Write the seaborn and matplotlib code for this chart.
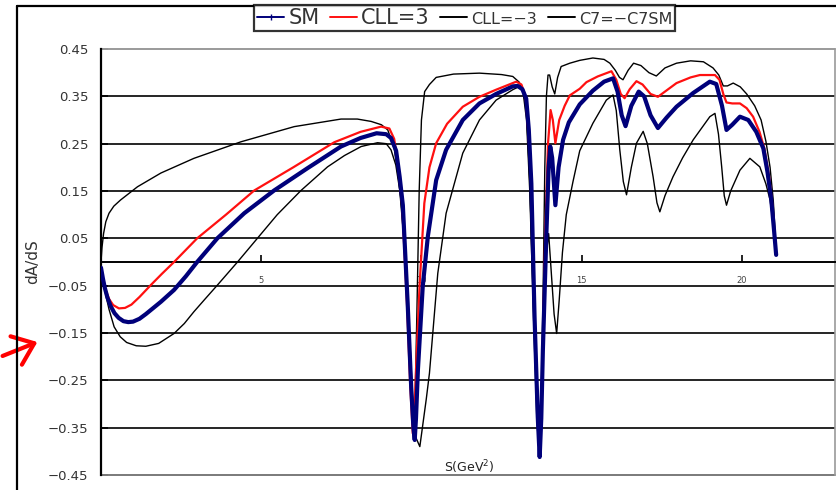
import numpy as np
import pandas as pd
import matplotlib
matplotlib.use("Agg")
import matplotlib.pyplot as plt
import seaborn as sns
from matplotlib.lines import Line2D

# ---- data: forward-backward asymmetry dA/dS versus S (GeV^2) ----
s_sm = [0.0, 0.06, 0.12, 0.2, 0.3, 0.42, 0.55, 0.7, 0.85, 1.0, 1.2, 1.4, 1.87, 2.28, 2.65,
        3.0, 3.63, 4.47, 5.4, 6.44, 7.49, 8.1, 8.6, 8.9, 9.05, 9.21, 9.32, 9.42, 9.57, 9.68,
        9.75, 9.79, 9.83, 9.89, 10.04, 10.2, 10.46, 10.77, 11.29, 11.81, 12.33, 12.85, 13.0,
        13.15, 13.27, 13.35, 13.43, 13.53, 13.63, 13.69, 13.74, 13.79, 13.9, 13.97, 14.02,
        14.08, 14.18, 14.28, 14.42, 14.6, 14.94, 15.35, 15.7, 15.98, 16.12, 16.25, 16.37,
        16.55, 16.78, 16.95, 17.15, 17.38, 17.65, 17.96, 18.48, 19.0, 19.2, 19.38, 19.52,
        19.7, 19.94, 20.2, 20.45, 20.67, 20.8, 20.92, 21.0, 21.07]
a_sm = [-0.012, -0.035, -0.055, -0.075, -0.093, -0.108, -0.118, -0.125, -0.127, -0.126,
        -0.12, -0.11, -0.084, -0.059, -0.03, 0.0, 0.05, 0.103, 0.151, 0.198, 0.244, 0.262,
        0.272, 0.27, 0.262, 0.235, 0.18, 0.12, -0.087, -0.264, -0.35, -0.376, -0.33, -0.228,
        -0.052, 0.054, 0.173, 0.237, 0.3, 0.335, 0.355, 0.371, 0.372, 0.365, 0.345, 0.28,
        0.166, -0.116, -0.327, -0.412, -0.33, -0.186, 0.061, 0.2, 0.244, 0.22, 0.12, 0.2,
        0.258, 0.295, 0.333, 0.362, 0.381, 0.388, 0.36, 0.31, 0.287, 0.33, 0.36, 0.35,
        0.31, 0.283, 0.305, 0.328, 0.357, 0.381, 0.376, 0.33, 0.279, 0.29, 0.307, 0.3,
        0.275, 0.24, 0.19, 0.13, 0.07, 0.015]

s_cp = [0.0, 0.06, 0.15, 0.25, 0.38, 0.56, 0.75, 0.95, 1.2, 1.55, 1.9, 2.28, 3.0, 3.9, 4.78,
        6.0, 7.28, 8.1, 8.74, 9.0, 9.15, 9.28, 9.4, 9.55, 9.65, 9.73, 9.78, 9.83, 9.94,
        10.09, 10.25, 10.46, 10.8, 11.29, 11.81, 12.33, 12.96, 13.12, 13.25, 13.33, 13.43,
        13.53, 13.62, 13.68, 13.73, 13.78, 13.86, 13.95, 14.03, 14.1, 14.18, 14.3, 14.47,
        14.63, 14.94, 15.15, 15.5, 15.93, 16.08, 16.22, 16.34, 16.5, 16.71, 16.9, 17.15,
        17.38, 17.7, 17.96, 18.4, 18.69, 19.16, 19.3, 19.42, 19.52, 19.7, 19.94, 20.15,
        20.35, 20.55, 20.7, 20.85, 20.95, 21.02, 21.07]
a_cp = [-0.012, -0.035, -0.06, -0.078, -0.091, -0.098, -0.097, -0.09, -0.074, -0.049,
        -0.025, 0.0, 0.05, 0.1, 0.151, 0.2, 0.253, 0.275, 0.286, 0.282, 0.26, 0.2, 0.12,
        -0.09, -0.26, -0.362, -0.33, -0.228, -0.052, 0.124, 0.2, 0.251, 0.292, 0.328,
        0.349, 0.364, 0.381, 0.375, 0.35, 0.28, 0.17, -0.11, -0.32, -0.405, -0.33, -0.2,
        0.05, 0.25, 0.321, 0.3, 0.251, 0.3, 0.33, 0.352, 0.366, 0.38, 0.392, 0.403, 0.385,
        0.355, 0.346, 0.365, 0.382, 0.375, 0.355, 0.349, 0.365, 0.378, 0.39, 0.395, 0.395,
        0.385, 0.355, 0.337, 0.335, 0.335, 0.325, 0.307, 0.275, 0.24, 0.18, 0.12, 0.06,
        0.015]

s_cm = [0.0, 0.08, 0.15, 0.25, 0.41, 0.6, 0.8, 1.1, 1.4, 1.8, 2.28, 2.6, 2.9, 3.25, 3.63,
        4.26, 4.88, 5.5, 6.24, 7.07, 7.6, 8.12, 8.63, 8.9, 9.05, 9.2, 9.35, 9.5, 9.62, 9.72,
        9.82, 9.95, 10.05, 10.15, 10.25, 10.51, 10.77, 11.29, 11.81, 12.33, 12.85, 13.06,
        13.18, 13.28, 13.38, 13.5, 13.6, 13.68, 13.74, 13.82, 13.9, 13.97, 14.05, 14.14,
        14.22, 14.3, 14.4, 14.52, 14.73, 14.94, 15.35, 15.77, 15.98, 16.08, 16.19, 16.3,
        16.4, 16.55, 16.71, 16.92, 17.05, 17.23, 17.35, 17.44, 17.6, 17.85, 18.15, 18.48,
        19.0, 19.16, 19.27, 19.37, 19.45, 19.52, 19.65, 19.94, 20.25, 20.56, 20.75, 20.88,
        20.98, 21.07]
a_cm = [-0.012, -0.045, -0.07, -0.1, -0.137, -0.158, -0.17, -0.177, -0.178, -0.172,
        -0.151, -0.13, -0.105, -0.078, -0.049, 0.0, 0.05, 0.1, 0.151, 0.201, 0.225, 0.244,
        0.252, 0.25, 0.237, 0.205, 0.14, 0.02, -0.14, -0.28, -0.37, -0.39, -0.34, -0.29,
        -0.235, -0.024, 0.103, 0.23, 0.3, 0.342, 0.364, 0.371, 0.36, 0.32, 0.17, -0.1,
        -0.3, -0.4, -0.33, -0.15, 0.02, 0.06, -0.02, -0.11, -0.151, -0.08, 0.02, 0.1, 0.17,
        0.235, 0.293, 0.342, 0.353, 0.32, 0.237, 0.17, 0.142, 0.2, 0.251, 0.276, 0.25,
        0.18, 0.125, 0.106, 0.14, 0.18, 0.22, 0.258, 0.307, 0.314, 0.27, 0.201, 0.14, 0.12,
        0.15, 0.194, 0.219, 0.201, 0.165, 0.131, 0.08, 0.015]

s_c7 = [0.0, 0.03, 0.08, 0.15, 0.25, 0.4, 0.61, 1.14, 1.87, 2.9, 4.37, 6.03, 7.49, 8.0,
        8.43, 8.75, 8.95, 9.15, 9.3, 9.45, 9.58, 9.68, 9.76, 9.8, 9.86, 9.93, 10.0, 10.1,
        10.25, 10.46, 11.0, 11.81, 12.5, 12.85, 13.05, 13.17, 13.28, 13.38, 13.5, 13.6,
        13.68, 13.74, 13.8, 13.85, 13.9, 13.95, 14.0, 14.08, 14.16, 14.25, 14.36, 14.63,
        14.94, 15.35, 15.7, 15.88, 16.05, 16.18, 16.29, 16.45, 16.62, 16.85, 17.1, 17.33,
        17.6, 17.96, 18.4, 18.8, 19.1, 19.28, 19.42, 19.55, 19.73, 19.95, 20.15, 20.4,
        20.6, 20.75, 20.88, 20.98, 21.04, 21.07]
a_c7 = [0.0, 0.03, 0.06, 0.085, 0.103, 0.118, 0.131, 0.159, 0.188, 0.219, 0.254, 0.286,
        0.302, 0.302, 0.297, 0.29, 0.279, 0.24, 0.17, 0.05, -0.12, -0.28, -0.37, -0.3,
        -0.1, 0.15, 0.3, 0.36, 0.375, 0.39, 0.397, 0.399, 0.396, 0.392, 0.38, 0.36, 0.3,
        0.15, -0.12, -0.33, -0.41, -0.3, -0.05, 0.2, 0.35, 0.395, 0.395, 0.37, 0.355, 0.39,
        0.413, 0.42, 0.426, 0.431, 0.428, 0.42, 0.405, 0.39, 0.385, 0.405, 0.42, 0.415,
        0.4, 0.393, 0.41, 0.42, 0.425, 0.423, 0.41, 0.395, 0.372, 0.372, 0.378, 0.37,
        0.355, 0.33, 0.3, 0.255, 0.2, 0.13, 0.06, 0.015]

legend_labels = ["SM", "CLL=3", "CLL=\u22123", "C7=\u2212C7SM"]
y_ticks = [0.45, 0.35, 0.25, 0.15, 0.05, -0.05, -0.15, -0.25, -0.35, -0.45]
x_ticks = [5, 10, 15, 20]

# ---- figure ----
sns.set_theme(style="white")
plt.rcParams["font.family"] = ["DejaVu Sans"]

W, H = 836, 490
fig = plt.figure(figsize=(W / 100, H / 100), dpi=100)
fig.patch.set_facecolor("white")
ax = fig.add_axes([101 / W, 1 - 475 / H, (835 - 101) / W, (475 - 49) / H])
ax.set_facecolor("white")

series = [
    (s_c7, a_c7, "black", 1.0, 3),
    (s_cm, a_cm, "black", 1.0, 3),
    (s_cp, a_cp, "#ff1010", 1.6, 4),
    (s_sm, a_sm, "#00007a", 3.0, 5),
]
for s, a, col, lw, z in series:
    df = pd.DataFrame({"S": s, "A": a})
    sns.lineplot(data=df, x="S", y="A", sort=False, estimator=None, color=col,
                 linewidth=lw, ax=ax, zorder=z)

ax.set_xlim(0, (835 - 102) / 32)
ax.set_ylim(-0.45, 0.45)
ax.set_xlabel("")
ax.set_ylabel("")

# horizontal grid lines
for v in y_ticks[1:-1]:
    ax.axhline(v, color="black", lw=1.2, zorder=1)
ax.axhline(0.45, color="#9a9a9a", lw=1.4, zorder=1, clip_on=False)
ax.axhline(-0.45, color="#7a7a7a", lw=1.4, zorder=1, clip_on=False)

# spines: value axis on the left, category axis crossing at zero
for side in ["top", "right"]:
    ax.spines[side].set_color("#9a9a9a")
    ax.spines[side].set_linewidth(1.2)
ax.spines["top"].set_visible(False)
ax.spines["left"].set_color("black")
ax.spines["left"].set_linewidth(1.6)
ax.spines["bottom"].set_position(("data", 0))
ax.spines["bottom"].set_color("black")
ax.spines["bottom"].set_linewidth(1.4)
ax.set_axisbelow(True)

ax.set_yticks(y_ticks)
ax.set_yticklabels([f"{v:.2f}".replace("-", "\u2212") for v in y_ticks])
ax.tick_params(axis="y", direction="in", length=5, width=1.2, pad=9, labelsize=9.5,
               labelcolor="#333333", color="black", left=True)
ax.set_xticks(x_ticks)
ax.set_xticklabels([str(v) for v in x_ticks])
ax.tick_params(axis="x", direction="in", length=5, width=1.2, pad=10, labelsize=6,
               labelcolor="#444444", color="black", bottom=True)

ax.text(11.5, -0.433, "S(GeV$^2$)", ha="center", va="center", fontsize=9,
        color="#222222", zorder=6)
fig.text(33 / W, 1 - 262 / H, "dA/dS", rotation=90, ha="center", va="center",
         fontsize=11, color="#333333")

# outer chart frame (left and top edges)
fig.add_artist(Line2D([17 / W, 17 / W], [0, 1 - 6 / H], transform=fig.transFigure,
                      color="black", lw=1.6))
fig.add_artist(Line2D([17 / W, 1], [1 - 6 / H, 1 - 6 / H], transform=fig.transFigure,
                      color="black", lw=1.6))

# legend
handles = [
    Line2D([], [], color="#00007a", lw=1.4, marker="|", markersize=5),
    Line2D([], [], color="#ff1010", lw=1.4),
    Line2D([], [], color="black", lw=1.4),
    Line2D([], [], color="black", lw=1.4),
]
leg = fig.legend(handles, legend_labels, ncol=4, loc="upper left",
                 bbox_to_anchor=(254 / W, 1 - 5 / H), frameon=True, fancybox=False,
                 edgecolor="black", fontsize=15, handlelength=1.3, handletextpad=0.2,
                 columnspacing=0.5, borderpad=0.15, borderaxespad=0)
leg.get_frame().set_linewidth(1.6)
for i, t in enumerate(leg.get_texts()):
    t.set_color("#333333")
    if i >= 2:
        t.set_fontsize(11.5)

# red pointer arrow at the left margin
ax.annotate("", xy=(40, H - 341), xycoords="figure pixels",
            xytext=(0, H - 357), textcoords="figure pixels",
            arrowprops=dict(arrowstyle="->, head_length=0.7, head_width=0.55",
                            color="red", lw=3, mutation_scale=20),
            annotation_clip=False)

fig.savefig("out.png", dpi=100, facecolor="white")
